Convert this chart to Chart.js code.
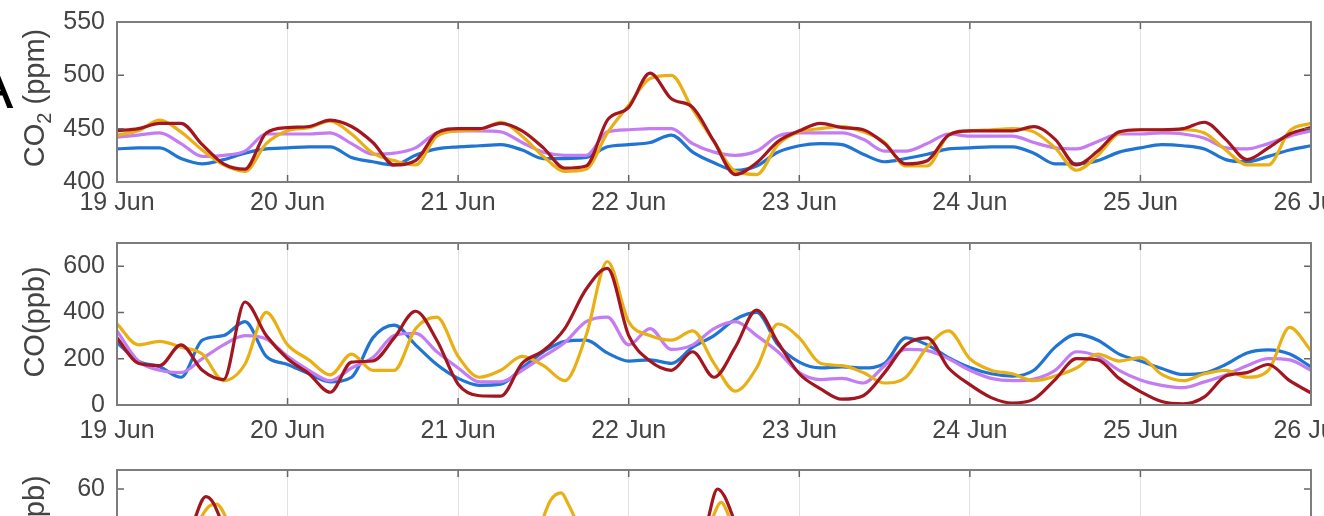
<!DOCTYPE html>
<html>
<head>
<meta charset="utf-8">
<script src="https://cdn.jsdelivr.net/npm/chart.js@4.4.1/dist/chart.umd.min.js"></script>
<style>
    html, body { margin: 0; padding: 0; background: #fff; }
    body { width: 1324px; height: 516px; overflow: hidden; position: relative; }
    canvas { position: absolute; left: 0; }
    #panelA { position: absolute; left: -28px; top: 56px; font: 62px "Liberation Sans", Arial, sans-serif; line-height: 62px; color: #000; }
</style>
</head>
<body>
<div id="panelA">A</div>
<canvas id="chart1" width="1380" height="222" style="top:-5px"></canvas>
<canvas id="chart2" width="1380" height="224" style="top:216px"></canvas>
<canvas id="chart3" width="1380" height="195" style="top:443px"></canvas>
<script>
// time axis, hours after 19 Jun 00:00
const dayHours = [0, 24, 48, 72, 96, 120, 144, 168];
const dayLabels = ['19 Jun', '20 Jun', '21 Jun', '22 Jun', '23 Jun', '24 Jun', '25 Jun', '26 Jun'];
const hours = [0, 3, 6, 9, 12, 15, 18, 21, 24, 27, 30, 33, 36, 39, 42, 45, 48, 51, 54, 57, 60, 63, 66, 69,
    72, 75, 78, 81, 84, 87, 90, 93, 96, 99, 102, 105, 108, 111, 114, 117, 120, 123, 126, 129, 132, 135, 138, 141,
    144, 147, 150, 153, 156, 159, 162, 165, 168];

const co2Ticks = [400, 450, 500, 550];
const coTicks = [0, 200, 400, 600];
const no2Ticks = [0, 20, 40, 60];

// CO2 (ppm)
const co2Red = [448, 450, 455, 455, 435, 417, 412, 446, 451, 452, 458, 452, 437, 416, 420, 446,
    450, 450, 455, 448, 432, 413, 415, 458, 470, 502, 478, 470, 438, 407, 418, 438,
    448, 455, 451, 449, 436, 417, 420, 444, 448, 448, 448, 452, 440, 416, 429, 447,
    449, 449, 450, 456, 440, 421, 432, 445, 451];
const co2Gold = [444, 448, 458, 447, 430, 416, 410, 436, 448, 451, 457, 445, 427, 420, 416, 443,
    448, 449, 456, 443, 424, 410, 412, 446, 472, 497, 500, 468, 438, 410, 407, 435,
    447, 450, 452, 447, 437, 415, 415, 444, 448, 449, 450, 447, 432, 411, 425, 446,
    449, 449, 449, 446, 430, 416, 416, 448, 455];
const co2Purple = [442, 444, 446, 436, 424, 425, 429, 445, 445, 445, 446, 436, 426, 427, 432, 446,
    448, 448, 447, 437, 428, 425, 425, 447, 449, 450, 450, 436, 428, 425, 429, 443,
    446, 446, 446, 440, 429, 429, 436, 445, 443, 443, 443, 437, 432, 431, 438, 445,
    445, 446, 445, 441, 432, 431, 436, 443, 448];
const co2Blue = [431, 432, 432, 422, 417, 421, 427, 431, 432, 433, 433, 423, 419, 416, 425, 431,
    433, 434, 435, 430, 422, 422, 423, 433, 435, 437, 444, 428, 418, 411, 415, 428,
    434, 436, 435, 426, 419, 422, 426, 431, 432, 433, 433, 427, 417, 417, 420, 428,
    432, 435, 434, 431, 421, 419, 424, 430, 434];

// CO (ppb)
const coRed = [290, 180, 170, 260, 150, 110, 445, 300, 200, 135, 55, 185, 190, 290, 405, 280,
    90, 40, 38, 180, 235, 330, 500, 590, 300, 190, 150, 230, 120, 250, 410, 270,
    135, 70, 25, 40, 140, 260, 290, 160, 88, 32, 8, 25, 110, 200, 195, 115,
    58, 15, 5, 35, 125, 140, 175, 105, 52];
const coGold = [350, 260, 275, 250, 220, 105, 176, 400, 260, 195, 130, 220, 150, 150, 330, 380,
    210, 120, 150, 210, 170, 105, 300, 620, 360, 300, 280, 320, 180, 60, 160, 350,
    290, 180, 170, 140, 95, 120, 250, 320, 200, 150, 135, 105, 125, 160, 220, 190,
    205, 132, 105, 135, 150, 120, 150, 335, 235];
const coPurple = [320, 190, 150, 140, 200, 260, 300, 285, 210, 150, 105, 160, 205, 300, 310, 230,
    160, 100, 100, 150, 210, 270, 360, 380, 260, 330, 240, 260, 330, 360, 300, 230,
    140, 110, 115, 95, 170, 240, 235, 200, 150, 115, 105, 112, 150, 230, 210, 150,
    108, 85, 75, 100, 130, 170, 200, 195, 150];
const coBlue = [270, 190, 165, 120, 280, 300, 360, 210, 175, 135, 100, 120, 290, 345, 260, 175,
    115, 85, 90, 160, 230, 275, 280, 225, 190, 195, 180, 250, 300, 370, 400, 260,
    185, 160, 165, 160, 180, 290, 260, 205, 162, 135, 125, 150, 250, 305, 280, 220,
    190, 158, 132, 138, 175, 225, 238, 220, 165];

// third panel, only the tops of the peaks are in the picture
const n3RedHours = [10.5, 12.5, 13.5, 15, 50, 83, 84.5, 85.5, 87];
const n3Red = [40, 56, 53, 40, null, 42, 60, 56, 42];
const n3GoldHours = [11, 13, 14, 16, 50, 59.5, 61, 62.5, 63.5, 65, 75, 83.5, 85, 86.5];
const n3Gold = [40, 51, 52, 40, null, 40, 54, 58, 52, 40, null, 42, 53, 42];

const colRed = '#a3161f';
const colGold = '#e9b016';
const colPurple = '#c47cf2';
const colBlue = '#1f74d4';
const textCol = '#444';
const fontFamily = '"Liberation Sans", Arial, sans-serif';

function toPoints(xs, ys) {
    return xs.map((x, i) => ({ x: x, y: ys[i] }));
}

function series(xs, ys, color) {
    return {
        data: toPoints(xs, ys),
        borderColor: color,
        backgroundColor: color,
        borderWidth: 3.2,
        pointRadius: 0,
        cubicInterpolationMode: 'monotone',
        spanGaps: false
    };
}

const framePlugin = {
    id: 'frame',
    afterDraw(chart, args, opts) {
        const { ctx, chartArea: a, scales } = chart;
        ctx.save();
        ctx.strokeStyle = '#666';
        ctx.lineWidth = 1.5;
        ctx.beginPath();
        scales.x.ticks.forEach(t => {
            const px = scales.x.getPixelForValue(t.value);
            ctx.moveTo(px, a.bottom); ctx.lineTo(px, a.bottom - 7);
            ctx.moveTo(px, a.top); ctx.lineTo(px, a.top + 7);
        });
        scales.y.ticks.forEach(t => {
            const py = scales.y.getPixelForValue(t.value);
            ctx.moveTo(a.left, py); ctx.lineTo(a.left + 7, py);
            ctx.moveTo(a.right, py); ctx.lineTo(a.right - 7, py);
        });
        ctx.stroke();
        ctx.strokeStyle = '#7d7d7d';
        ctx.lineWidth = 2;
        ctx.strokeRect(a.left, a.top, a.width, a.height);

        // rotated y title, with subscripts
        const parts = opts.title || [];
        const big = '29px ' + fontFamily;
        const small = '20px ' + fontFamily;
        let total = 0;
        parts.forEach(p => {
            ctx.font = p.sub ? small : big;
            p.w = ctx.measureText(p.t).width;
            total += p.w;
        });
        ctx.translate(44, (a.top + a.bottom) / 2 + (opts.titleShift || 0));
        ctx.rotate(-Math.PI / 2);
        ctx.fillStyle = textCol;
        ctx.textBaseline = 'alphabetic';
        ctx.textAlign = 'left';
        let x = -total / 2;
        parts.forEach(p => {
            ctx.font = p.sub ? small : big;
            ctx.fillText(p.t, x, p.sub ? 7 : 0);
            x += p.w;
        });
        ctx.restore();
    }
};

// y tick padding (12) makes Chart.js keep 27px above the plot, canvases are placed for that
function makeChart(id, datasets, yMin, yMax, yTicks, labelPad, title, titleShift) {
    return new Chart(document.getElementById(id), {
        type: 'line',
        data: { datasets: datasets },
        options: {
            responsive: false,
            animation: false,
            layout: { padding: { top: 0, right: 69, left: 0, bottom: 0 } },
            scales: {
                x: {
                    type: 'linear',
                    min: 0,
                    max: 168,
                    afterBuildTicks: s => { s.ticks = dayHours.map(v => ({ value: v })); },
                    afterFit: s => { s.height = 35; },
                    ticks: {
                        callback: v => dayLabels[dayHours.indexOf(v)],
                        font: { family: fontFamily, size: 25 },
                        color: textCol,
                        padding: labelPad,
                        maxRotation: 0,
                        autoSkip: false
                    },
                    grid: { color: '#e2e2e2', lineWidth: 1, drawTicks: false },
                    border: { display: false }
                },
                y: {
                    min: yMin,
                    max: yMax,
                    afterBuildTicks: s => { s.ticks = yTicks.map(v => ({ value: v })); },
                    afterFit: s => { s.width = 117; },
                    ticks: {
                        font: { family: fontFamily, size: 25 },
                        color: textCol,
                        padding: 12
                    },
                    grid: { display: false, drawTicks: false },
                    border: { display: false }
                }
            },
            plugins: {
                legend: { display: false },
                tooltip: { enabled: false },
                frame: { title: title, titleShift: titleShift }
            }
        },
        plugins: [framePlugin]
    });
}

makeChart('chart1', [
    series(hours, co2Red, colRed),
    series(hours, co2Gold, colGold),
    series(hours, co2Purple, colPurple),
    series(hours, co2Blue, colBlue)
], 400, 550, co2Ticks, 6, [{ t: 'CO' }, { t: '2', sub: true }, { t: ' (ppm)' }], -4);

makeChart('chart2', [
    series(hours, coRed, colRed),
    series(hours, coGold, colGold),
    series(hours, coPurple, colPurple),
    series(hours, coBlue, colBlue)
], 0, 700, coTicks, 11, [{ t: 'CO(ppb)' }], -2);

makeChart('chart3', [
    series(n3RedHours, n3Red, colRed),
    series(n3GoldHours, n3Gold, colGold)
], 0, 70, no2Ticks, 8, [{ t: 'NO' }, { t: '2', sub: true }, { t: '(ppb)' }], 0);
</script>
</body>
</html>
